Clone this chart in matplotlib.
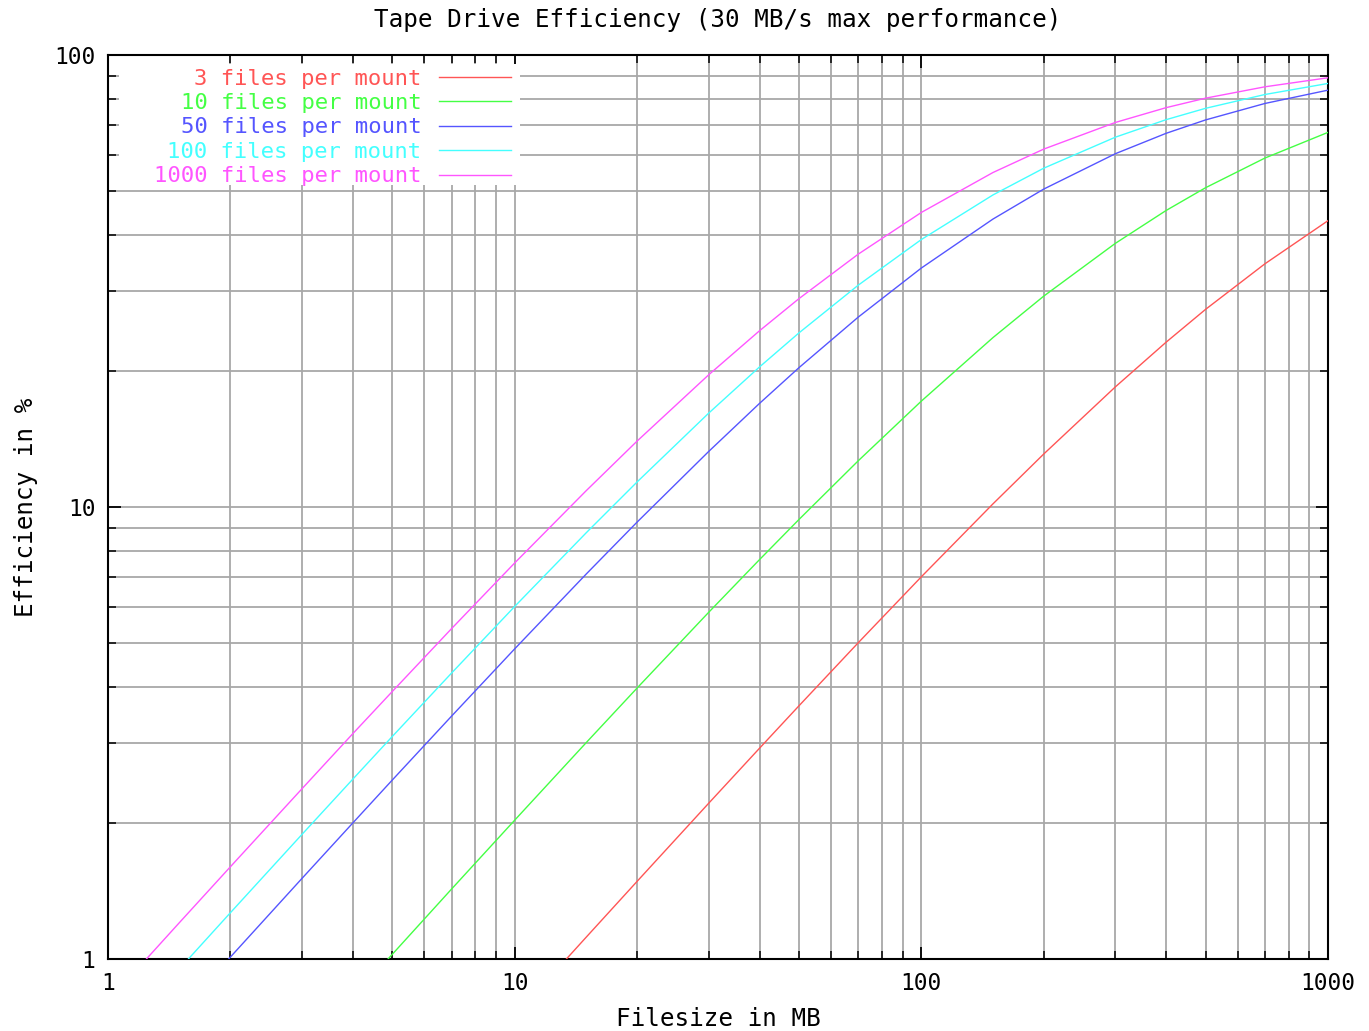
import matplotlib
matplotlib.use("Agg")
import matplotlib.pyplot as plt
from matplotlib.ticker import LogLocator, FuncFormatter, NullFormatter
from matplotlib.patches import Rectangle

plt.rcParams['font.family'] = ['DejaVu Sans Mono']

# filesize in MB
size = [1, 1.5, 2, 3, 4, 5, 7, 10, 15, 20, 30, 40, 50, 70, 100, 150, 200, 300, 400, 500, 700, 1000]

# efficiency in %
eff_3 = [0.075, 0.113, 0.150, 0.226, 0.30, 0.375, 0.525, 0.748, 1.118, 1.485, 2.211, 2.926, 3.631, 5.011,
         7.008, 10.16, 13.10, 18.44, 23.16, 27.37, 34.53, 43.0]
eff_10 = [0.207, 0.31, 0.413, 0.618, 0.821, 1.024, 1.429, 2.028, 3.012, 3.976, 5.848, 7.648, 9.381, 12.66,
          17.15, 23.70, 29.28, 38.31, 45.30, 50.86, 59.17, 67.43]
eff_50 = [0.508, 0.759, 1.010, 1.508, 2.000, 2.488, 3.448, 4.854, 7.109, 9.259, 13.27, 16.95, 20.33, 26.32,
          33.78, 43.35, 50.51, 60.48, 67.11, 71.84, 78.13, 83.61]
eff_100 = [0.637, 0.952, 1.266, 1.887, 2.5, 3.106, 4.294, 6.024, 8.772, 11.36, 16.13, 20.41, 24.27, 30.97,
           39.06, 49.02, 56.18, 65.79, 71.94, 76.22, 81.78, 86.51]
eff_1000 = [0.806, 1.205, 1.6, 2.381, 3.152, 3.906, 5.385, 7.519, 10.87, 13.99, 19.61, 24.54, 28.90, 36.27,
            44.84, 54.95, 61.92, 70.92, 76.48, 80.26, 85.05, 89.05]

labels = ["3 files per mount", "10 files per mount", "50 files per mount",
          "100 files per mount", "1000 files per mount"]
series = [eff_3, eff_10, eff_50, eff_100, eff_1000]
colors = ["#ff5555", "#44ff44", "#5555ff", "#44ffff", "#ff55ff"]

fig = plt.figure(figsize=(13.69, 10.31), dpi=100)
ax = fig.add_axes([108/1369, 1-959/1031, (1328-108)/1369, (959-55)/1031])

for y, lab, c in zip(series, labels, colors):
    ax.plot(size, y, color=c, lw=1.0, label=lab, zorder=3)

ax.set_xscale("log")
ax.set_yscale("log")
ax.set_xlim(1, 1000)
ax.set_ylim(1, 100)

fmt = FuncFormatter(lambda v, p: "%d" % v)
ax.xaxis.set_major_formatter(fmt)
ax.yaxis.set_major_formatter(fmt)
ax.xaxis.set_minor_locator(LogLocator(base=10, subs=range(2, 10)))
ax.yaxis.set_minor_locator(LogLocator(base=10, subs=range(2, 10)))
ax.xaxis.set_minor_formatter(NullFormatter())
ax.yaxis.set_minor_formatter(NullFormatter())

ax.grid(True, which="both", color="#a8a8a8", lw=1.3)
ax.set_axisbelow(True)
ax.tick_params(which="both", direction="in", top=True, right=True, color="black", labelsize=16.5)
ax.tick_params(which="major", length=9, width=1.3, pad=9)
ax.tick_params(which="minor", length=6, width=1.1)
for s in ax.spines.values():
    s.set_linewidth(1.5)

# white box behind the key, leaving the tick marks visible
ax.add_patch(Rectangle((0.009, 0.856), 0.329, 0.134, transform=ax.transAxes,
                       facecolor="white", edgecolor="none", zorder=1.5))

ax.set_title("Tape Drive Efficiency (30 MB/s max performance)", fontsize=17.5, pad=20)
ax.set_xlabel("Filesize in MB", fontsize=17.5, labelpad=9)
ax.set_ylabel("Efficiency in %", fontsize=17.5, labelpad=12)

leg = ax.legend(loc="upper left", bbox_to_anchor=(0.0377, 0.985), markerfirst=False,
                fontsize=16, frameon=False, handlelength=3.24, handletextpad=0.77,
                labelspacing=0.2, borderaxespad=0, borderpad=0)
for t, c in zip(leg.get_texts(), colors):
    t.set_color(c)

fig.savefig("out.png", dpi=100)
